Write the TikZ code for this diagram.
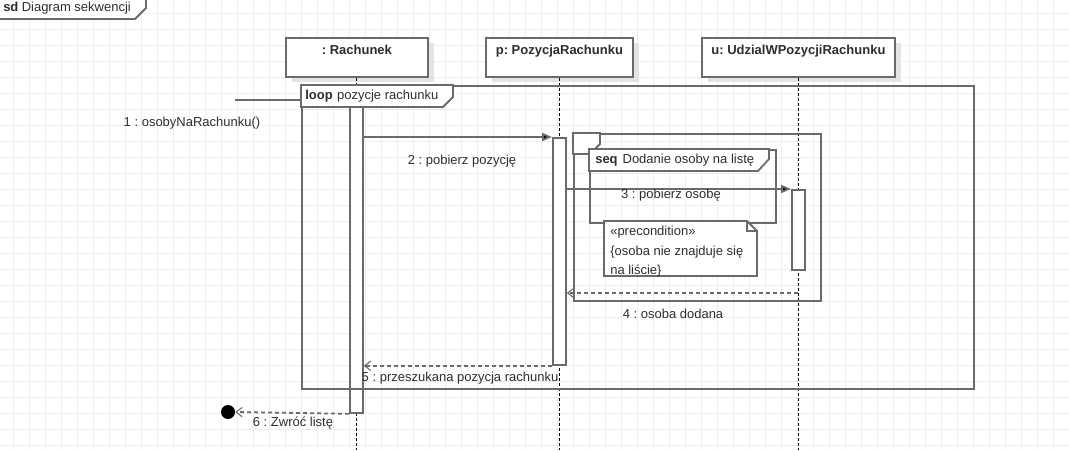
\documentclass[tikz,border=0pt]{standalone}
\usepackage{fontspec}
\setmainfont{Liberation Sans}
\usetikzlibrary{arrows.meta}
\frenchspacing
\definecolor{ln}{HTML}{6A6A6A}
\definecolor{tx}{HTML}{2E2E2E}
\definecolor{gridc}{HTML}{EEEEEE}
\definecolor{shad}{HTML}{E4E4E4}
\tikzset{
  every node/.style={font=\fontsize{9.75pt}{11pt}\selectfont, text=tx},
  headbox/.style={draw=ln, line width=1.35pt, fill=white, inner sep=0pt, anchor=north west},
  shadowbox/.style={fill=shad, draw=none, inner sep=0pt, anchor=north west},
  actbox/.style={draw=ln, line width=1.35pt, fill=white, inner sep=0pt, anchor=north west},
  fragbox/.style={draw=ln, line width=1.35pt, inner sep=0pt, anchor=north west},
  tabshape/.style={draw=ln, line width=1.35pt, fill=white},
  lifeline/.style={draw=black, line width=0.8pt, dash pattern=on 2.25pt off 1.5pt},
  msg/.style={draw=ln, line width=1.35pt, -{Triangle[length=7.5pt,width=6pt,fill=black]}},
  retmsg/.style={draw=ln, line width=1.35pt, dash pattern=on 3pt off 2.25pt, -{Straight Barb[length=4.5pt,width=7pt,line width=0.8pt]}},
  lbl/.style={inner sep=0pt},
}
\begin{document}
\begin{tikzpicture}[x=0.75pt,y=-0.75pt]
\useasboundingbox (0,0) rectangle (1069,450);
% grid
\begin{scope}
\clip (0,0) rectangle (1069,450);
\foreach \k in {0,...,66} \draw[gridc, line width=0.75pt] (13.3+16*\k,0) -- (13.3+16*\k,450);
\foreach \k in {0,...,27} \draw[gridc, line width=0.75pt] (0,13.5+16*\k) -- (1069,13.5+16*\k);
\end{scope}
\coordinate (bot) at (0,450);

% sd frame tab
\coordinate (sdA) at (0,19);
\coordinate (sdB) at (135,19);
\coordinate (sdC) at (146,8);
\coordinate (sdD) at (146,0);
\fill[white] (0,0) -- (sdD) -- (sdC) -- (sdB) -- (sdA) -- cycle;
\draw[draw=ln, line width=1.35pt] (sdA) -- (sdB) -- (sdC) -- (sdD);
\node[lbl, anchor=west] (sdt) at (3,8.5) {\textbf{sd}\hspace{2.5pt}Diagram sekwencji};

% lifeline heads with shadows
\node[shadowbox, minimum width=142*0.75pt, minimum height=39*0.75pt] (rachs) at (292,43) {};
\node[shadowbox, minimum width=147*0.75pt, minimum height=39*0.75pt] (pozs) at (492,43) {};
\node[shadowbox, minimum width=193*0.75pt, minimum height=39*0.75pt] (udzs) at (708,43) {};
\node[headbox, minimum width=142*0.75pt, minimum height=39*0.75pt,
  label={[anchor=base, yshift=-13.3pt, font=\fontsize{9.75pt}{11pt}\selectfont\bfseries]north:{: Rachunek}}] (rach) at (285,37) {};
\node[headbox, minimum width=147*0.75pt, minimum height=39*0.75pt,
  label={[anchor=base, yshift=-13.3pt, font=\fontsize{9.75pt}{11pt}\selectfont\bfseries]north:{p: PozycjaRachunku}}] (poz) at (485,37) {};
\node[headbox, minimum width=193*0.75pt, minimum height=39*0.75pt,
  label={[anchor=base, yshift=-13.3pt, font=\fontsize{9.75pt}{11pt}\selectfont\bfseries]north:{u: UdzialWPozycjiRachunku}}] (udz) at (701,37) {};

% lifelines
\draw[lifeline] (rach.south) -- (rach.south |- bot);
\draw[lifeline] (poz.south) -- (poz.south |- bot);
\draw[lifeline] (udz.south) -- (udz.south |- bot);

% activation bars
\node[actbox, minimum width=13*0.75pt, minimum height=312*0.75pt] (a1) at (349,100) {};
\node[actbox, minimum width=13*0.75pt, minimum height=227*0.75pt] (a2) at (552,137) {};
\node[actbox, minimum width=13*0.75pt, minimum height=80*0.75pt] (a3) at (791,189) {};

% messages
\coordinate (m1s) at (235,100);
\draw[msg] (m1s) -- (m1s -| a1.west);
\draw[msg] (a1.east |- a2.north) -- (a2.north west);
\draw[msg] (a2.east |- a3.north) -- (a3.north west);
\coordinate (m4s) at (798,293);
\draw[retmsg] (m4s) -- (m4s -| a2.east);
\draw[retmsg] (a2.south west) -- (a2.south west -| a1.east);
\node[circle, fill=black, inner sep=0pt, minimum size=14*0.75pt] (endp) at (228,412) {};
\draw[retmsg] (a1.south west) -- (endp.east);

% loop fragment
\node[fragbox, minimum width=672*0.75pt, minimum height=303*0.75pt] (loop) at (301,85) {};
\draw[tabshape] (loop.north west) -- ++(152,0) -- ++(0,12) -- ++(-10,10) -- ++(-142,0) -- cycle;
\node[lbl, anchor=west] (loopt) at (305,96) {\textbf{loop}\hspace{0.6pt} pozycje rachunku};

% inner fragment with empty tab
\node[fragbox, minimum width=247*0.75pt, minimum height=167*0.75pt] (frag) at (573,133) {};
\draw[tabshape] (frag.north west) -- ++(27,0) -- ++(0,11) -- ++(-10,10) -- ++(-17,0) -- cycle;

% seq fragment
\node[fragbox, minimum width=186*0.75pt, minimum height=73*0.75pt] (seq) at (589,149) {};
\draw[tabshape] (seq.north west) -- ++(180,0) -- ++(0,10) -- ++(-11,12) -- ++(-169,0) -- cycle;
\node[lbl, anchor=west] (seqt) at (595,160) {\textbf{seq}\hspace{1pt} Dodanie osoby na listę};

% note
\coordinate (nA) at (604,221);
\coordinate (nB) at (747,221);
\coordinate (nC) at (757,231);
\coordinate (nD) at (757,276);
\coordinate (nE) at (604,276);
\draw[draw=ln, line width=1.35pt, fill=white] (nA) -- (nB) -- (nC) -- (nD) -- (nE) -- cycle;
\draw[draw=ln, line width=0.8pt] (nB) -- (nB |- nC) -- (nC);
\node[lbl, anchor=north west, align=left, font=\fontsize{9.75pt}{14.5pt}\selectfont] (nt) at (610,226)
  {«precondition»\\\{osoba nie znajduje się\\na liście\}};

% labels
\node[lbl] (l1) at (192,123) {1 : osobyNaRachunku()};
\node[lbl] (l2) at (462,161) {2 : pobierz pozycję};
\node[lbl] (l3) at (671,195) {3 : pobierz osobę};
\node[lbl] (l4) at (673,314) {4 : osoba dodana};
\node[lbl] (l5) at (460,378) {5 : przeszukana pozycja rachunku};
\node[lbl] (l6) at (293,423) {6 : Zwróć listę};
\end{tikzpicture}
\end{document}
